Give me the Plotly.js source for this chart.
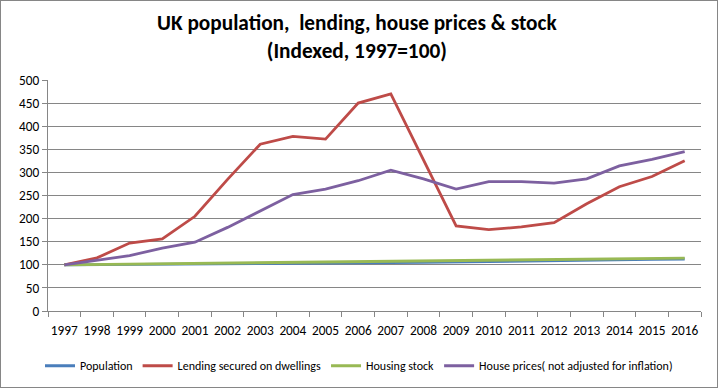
<!DOCTYPE html>
<html>
<head>
<meta charset="utf-8">
<script src="https://cdn.plot.ly/plotly-3.0.1.min.js"></script>
<style>
body { margin: 0; padding: 0; background: #fff; }
#chart { width: 716px; height: 386px; border: 1px solid #868686; }
</style>
</head>
<body>
<div id="chart"></div>
<script>
var years = ["1997","1998","1999","2000","2001","2002","2003","2004","2005","2006","2007","2008","2009","2010","2011","2012","2013","2014","2015","2016"];
var population = [100, 100.3, 100.6, 101.0, 101.4, 101.7, 102.1, 102.6, 103.3, 103.9, 104.6, 105.3, 106.0, 106.8, 108.4, 109.2, 109.9, 110.8, 111.7, 112.6];
var lending = [100, 115, 147, 156, 205, 285, 361, 378, 372, 450, 470, 328, 184, 176, 182, 191, 232, 269, 291, 325];
var housingStock = [100, 100.8, 101.6, 102.4, 103.2, 104.0, 104.8, 105.6, 106.4, 107.3, 108.1, 108.9, 109.6, 110.2, 110.8, 111.4, 112.1, 112.9, 113.7, 114.5];
var housePrices = [100, 110, 120, 136, 149, 181, 216, 252, 264, 282, 305, 286, 264, 280, 280, 277, 286, 314, 328, 345];
var seriesNames = ["Population", "Lending secured on dwellings", "Housing stock", "House prices( not adjusted for inflation)"];
var yTicks = [0, 50, 100, 150, 200, 250, 300, 350, 400, 450, 500];

var colors = ["#4a7ebb", "#be4b48", "#98b954", "#7d60a0"];
var data = [population, lending, housingStock, housePrices];
var traces = data.map(function (vals, i) {
  return {
    x: years, y: vals, name: seriesNames[i], type: "scatter", mode: "lines",
    line: { color: colors[i], width: 2.8 }
  };
});

var font = "Carlito, Calibri, 'Liberation Sans', Arial, sans-serif";
var layout = {
  width: 716, height: 386,
  margin: { l: 47, r: 16, t: 78.5, b: 76, pad: 0 },
  paper_bgcolor: "#ffffff", plot_bgcolor: "#ffffff",
  font: { family: font, size: 13, color: "#000" },
  title: {
    text: "<b>UK population,  lending, house prices & stock<br>(Indexed, 1997=100)</b>",
    font: { family: font, size: 21.3, color: "#000" },
    x: 0.497, xanchor: "center", xref: "container",
    y: 0.925, yanchor: "top", yref: "container"
  },
  xaxis: {
    type: "category", categoryorder: "array", categoryarray: years,
    range: [-0.5, 19.5], tickson: "boundaries", tickangle: 0, automargin: false,
    ticks: "outside", ticklen: 5, tickcolor: "#868686", tickwidth: 1,
    ticklabelstandoff: 7,
    showline: true, linecolor: "#868686", linewidth: 1,
    showgrid: false, zeroline: false,
    tickfont: { family: font, size: 13.3, color: "#000" }
  },
  yaxis: {
    range: [0, 500], tickvals: yTicks, ticktext: yTicks.map(String),
    automargin: false,
    ticks: "outside", ticklen: 5, tickcolor: "#868686", tickwidth: 1,
    showline: true, linecolor: "#868686", linewidth: 1,
    showgrid: true, gridcolor: "#868686", gridwidth: 1,
    zeroline: false,
    tickfont: { family: font, size: 13.3, color: "#000" }
  },
  showlegend: true,
  legend: {
    orientation: "h", x: 0.5, xanchor: "center", xref: "container",
    y: 0.055, yanchor: "middle", yref: "container",
    font: { family: font, size: 12, color: "#000" },
    itemwidth: 30, tracegroupgap: 0
  }
};

Plotly.newPlot("chart", traces, layout, { displayModeBar: false, staticPlot: true });
</script>
</body>
</html>
